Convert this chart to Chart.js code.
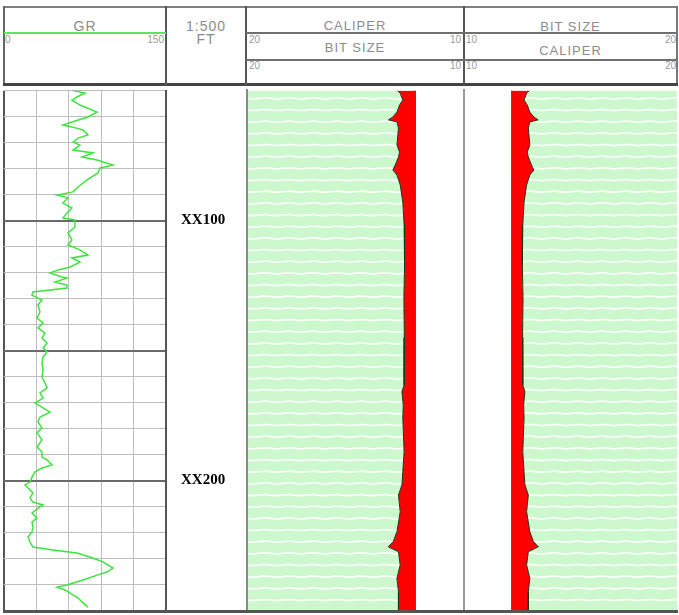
<!DOCTYPE html>
<html>
<head>
<meta charset="utf-8">
<script src="https://cdn.jsdelivr.net/npm/chart.js@4.4.1/dist/chart.umd.min.js"></script>
<style>
  html, body { margin: 0; padding: 0; background: #fff; }
  #page { position: relative; width: 679px; height: 615px; overflow: hidden;
          font-family: "Liberation Sans", Arial, sans-serif; color: #8c8c8c; }
  .ln { position: absolute; background: #6e6e6e; }
  .t { position: absolute; white-space: nowrap; line-height: 1; }
  .big { font-size: 13px; letter-spacing: 1px; }
  .sm { font-size: 10px; color: #9a9a9a; }
  canvas { position: absolute; }
</style>
</head>
<body>
<div id="page">
  <!-- header box -->
  <div class="ln" style="left:3px;top:6px;width:675px;height:2px;background:#808080"></div>
  <div class="ln" style="left:3px;top:6px;width:2px;height:79px;background:#666"></div>
  <div class="ln" style="left:676px;top:6px;width:2px;height:79px;background:#777"></div>
  <div class="ln" style="left:3px;top:83px;width:675px;height:3px;background:#444"></div>
  <div class="ln" style="left:165px;top:6px;width:2px;height:79px;background:#555"></div>
  <div class="ln" style="left:245px;top:6px;width:2px;height:79px;background:#555"></div>
  <div class="ln" style="left:463px;top:6px;width:2px;height:79px;background:#555"></div>

  <!-- GR header -->
  <div class="t" style="left:4px;width:162px;text-align:center;top:19px;font-size:14px;letter-spacing:1px">GR</div>
  <div class="ln" style="left:4px;top:32px;width:162px;height:2px;background:#5be65b"></div>
  <div class="t sm" id="grMin" style="left:5px;top:35px"></div>
  <div class="t sm" id="grMax" style="left:116px;width:48px;text-align:right;top:35px"></div>

  <!-- depth header -->
  <div class="t" style="left:166px;width:80px;text-align:center;top:19px;font-size:14px;letter-spacing:1px">1:500</div>
  <div class="t" style="left:166px;width:80px;text-align:center;top:32px;font-size:14px;letter-spacing:1px">FT</div>

  <!-- caliper track 1 header -->
  <div class="t big" style="left:247px;width:216px;text-align:center;top:19px">CALIPER</div>
  <div class="ln" style="left:246px;top:32px;width:218px;height:2px;background:#707070"></div>
  <div class="t sm" id="c1a0" style="left:249px;top:35px"></div>
  <div class="t sm" id="c1a1" style="left:412px;width:49px;text-align:right;top:35px"></div>
  <div class="t big" style="left:247px;width:216px;text-align:center;top:41px">BIT SIZE</div>
  <div class="ln" style="left:246px;top:59px;width:218px;height:2px;background:#707070"></div>
  <div class="t sm" id="c1b0" style="left:249px;top:61px"></div>
  <div class="t sm" id="c1b1" style="left:412px;width:49px;text-align:right;top:61px"></div>

  <!-- caliper track 2 header -->
  <div class="t big" style="left:465px;width:211px;text-align:center;top:20px">BIT SIZE</div>
  <div class="ln" style="left:464px;top:32px;width:213px;height:2px;background:#707070"></div>
  <div class="t sm" id="c2a0" style="left:466px;top:35px"></div>
  <div class="t sm" id="c2a1" style="left:626px;width:50px;text-align:right;top:35px"></div>
  <div class="t big" style="left:465px;width:211px;text-align:center;top:44px">CALIPER</div>
  <div class="ln" style="left:464px;top:59px;width:213px;height:2px;background:#707070"></div>
  <div class="t sm" id="c2b0" style="left:466px;top:61px"></div>
  <div class="t sm" id="c2b1" style="left:626px;width:50px;text-align:right;top:61px"></div>

  <!-- body tracks -->
  <canvas id="gr" width="246" height="540" style="left:0;top:80px"></canvas>
  <canvas id="cal1" width="217" height="540" style="left:247px;top:80px"></canvas>
  <canvas id="cal2" width="213" height="540" style="left:464px;top:80px"></canvas>

  <div class="ln" style="left:246px;top:89px;width:2px;height:523px;background:#8a8a8a"></div>
  <div class="ln" style="left:463px;top:89px;width:2px;height:523px;background:#9a9a9a"></div>
  <div class="ln" style="left:3px;top:610px;width:675px;height:3px;background:#555"></div>
</div>

<script>
// depth in ft (XX050 .. XX250), GR in API
const grDepth = [50, 51, 52.5, 53.7, 55.6, 58.3, 60.2, 62.1, 63.3, 64,
  65.2, 67.1, 68.3, 69.8, 71, 72.9, 74, 75.6, 76.7, 78.7,
  79.8, 81.7, 84.4, 87.1, 89, 90.2, 91.3, 93.3, 95.2, 97.1,
  99, 99.8, 102.5, 104.8, 107.5, 109.4, 111.3, 113.3, 114.4, 116,
  117.9, 119, 120.2, 121.7, 122.1, 123.7, 124.8, 126, 127.5, 128.7,
  130.6, 132.5, 135.2, 137.5, 139.4, 141.3, 143.3, 145.2, 147.1, 149,
  150.5, 152.5, 154.8, 157.5, 160.2, 162.5, 164.4, 166.3, 168.3, 170.2,
  172.1, 173.7, 175.6, 177.5, 179.8, 181.7, 184.4, 187.1, 189, 191,
  192.1, 194, 195.2, 196.7, 198.7, 200.6, 201.7, 202.9, 204.8, 206.7,
  208.3, 209.4, 210.6, 212.5, 214.4, 216, 217.9, 219.8, 221.7, 223.7,
  225.6, 226.7, 227.9, 229.4, 231.3, 233.7, 235.2, 236.3, 238.3, 240.2,
  241, 242.1, 244, 245.2, 246.7, 248.7];
const grValue = [64.2, 75.2, 67.8, 63.2, 70.6, 86.3, 78, 63.2, 54.9, 63.2,
  73.4, 78, 68.8, 64.2, 70.6, 64.2, 82.6, 72.5, 86.3, 101.1,
  89.1, 87.2, 77.1, 68.8, 64.2, 49.4, 59.5, 54.9, 63.2, 58.6,
  54.9, 66, 66, 59.5, 63.2, 59.5, 70.6, 78, 63.2, 70.6,
  61.4, 50.3, 42.9, 54, 58.6, 47.5, 58.6, 58.6, 27.2, 26.3,
  35.5, 31.8, 33.7, 30.9, 36.5, 31.8, 38.3, 35.5, 40.2, 36.5,
  40.2, 36.5, 35.5, 36.5, 35.5, 38.3, 40.2, 33.7, 36.5, 29.1,
  36.5, 42.9, 33.7, 31.8, 35.5, 30.9, 35.5, 30.9, 35.5, 35.5,
  40.2, 44.8, 35.5, 29.1, 26.3, 24.5, 19.8, 22.6, 27.2, 24.5,
  27.2, 36.5, 31.8, 26.3, 30.9, 26.3, 27.2, 26.3, 22.6, 24.5,
  27.2, 45.7, 67.8, 79.8, 91.8, 101.1, 95.5, 87.2, 73.4, 58.6,
  49.4, 56.8, 64.2, 68.8, 72.5, 78];

// caliper in inches
const calDepth = [50, 51, 53.7, 55.6, 58.3, 60.2, 61.3, 62.1, 64.4, 71,
  73.7, 75.6, 78.7, 80.6, 82.5, 86.3, 92.9, 101.7, 117, 130,
  145, 158, 163.3, 165.8, 171, 176, 189, 201.7, 205.6, 212,
  219.7, 223.5, 225.5, 227.4, 232.5, 237.6, 242.8, 250];
const calValue = [13.08, 12.94, 12.82, 12.97, 13.09, 13.28, 13.48, 13.09, 13.02, 13.09,
  12.97, 13.02, 13.17, 13.28, 13.09, 12.94, 12.82, 12.76, 12.74, 12.77,
  12.75, 12.76, 12.76, 12.86, 12.8, 12.82, 12.76, 12.86, 13.02, 12.94,
  13.09, 13.26, 13.49, 13.02, 12.94, 13.09, 13.02, 13.02];

const bitDepth = [50, 250];
const bitValue = [12.25, 12.25];

const depthRange = [50, 250];
const grScale = [0, 150];
const cal1Scale = [20, 10];
const cal2Scale = [10, 20];
const depthMarks = [100, 200];
const depthMarkLabels = ['XX100', 'XX200'];

// header scale numbers
document.getElementById('grMin').textContent = grScale[0];
document.getElementById('grMax').textContent = grScale[1];
['c1a', 'c1b'].forEach(p => {
  document.getElementById(p + '0').textContent = cal1Scale[0];
  document.getElementById(p + '1').textContent = cal1Scale[1];
});
['c2a', 'c2b'].forEach(p => {
  document.getElementById(p + '0').textContent = cal2Scale[0];
  document.getElementById(p + '1').textContent = cal2Scale[1];
});

const pts = (depths, vals) => depths.map((d, i) => ({ x: vals[i], y: d }));

// light green with faint wavy white stripes
function wavePattern(ctx) {
  const c = document.createElement('canvas');
  c.width = 24; c.height = 35;
  const g = c.getContext('2d');
  g.fillStyle = '#cdf8cd';
  g.fillRect(0, 0, 24, 35);
  g.strokeStyle = 'rgba(255,255,255,0.85)';
  g.lineWidth = 1.8;
  for (let k = 0; k < 3; k++) {
    const y0 = 6.7 + k * 11.667;
    g.beginPath();
    for (let x = 0; x <= 24; x++) {
      const y = y0 + Math.sin(x / 24 * 2 * Math.PI) * 0.5;
      if (x === 0) g.moveTo(x, y); else g.lineTo(x, y);
    }
    g.stroke();
  }
  return ctx.createPattern(c, 'repeat');
}

const common = {
  indexAxis: 'y',
  animation: false,
  responsive: false,
  events: [],
  layout: { padding: { top: 10.5, bottom: 9.5, left: 0, right: 0 } },
  plugins: { legend: { display: false }, tooltip: { enabled: false } }
};

// GR track, depth labels on its right axis
const heavy = v => v % 50 === 0 && v !== depthRange[0];
new Chart(document.getElementById('gr'), {
  type: 'line',
  data: {
    datasets: [{
      label: 'GR',
      data: pts(grDepth, grValue),
      borderColor: '#3fe33f',
      borderWidth: 1.5,
      pointRadius: 0,
      tension: 0,
      fill: false
    }]
  },
  options: {
    ...common,
    layout: { padding: { top: 10.5, bottom: 9.5, left: 3.5, right: 0 } },
    scales: {
      x: {
        type: 'linear', position: 'top', min: grScale[0], max: grScale[1],
        ticks: { display: false, stepSize: 30 },
        border: { display: false },
        grid: {
          drawTicks: false,
          color: c => (c.tick.value === grScale[0] || c.tick.value === grScale[1]) ? '#555' : '#bdbdbd',
          lineWidth: c => (c.tick.value === grScale[0] || c.tick.value === grScale[1]) ? 2 : 1
        }
      },
      y: {
        type: 'linear', position: 'right', min: depthRange[0], max: depthRange[1], reverse: true,
        afterFit: s => { s.width = 80; s.paddingTop = 0; s.paddingBottom = 0; },
        ticks: {
          stepSize: 10, autoSkip: false, padding: 15, color: '#000',
          font: { family: '"Liberation Serif", "Times New Roman", serif', weight: 'bold', size: 15 },
          callback: v => { const i = depthMarks.indexOf(v); return i >= 0 ? depthMarkLabels[i] : ''; }
        },
        border: { color: '#555', width: 2 },
        grid: {
          drawTicks: false,
          color: c => heavy(c.tick.value) ? '#6a6a6a' : '#bdbdbd',
          lineWidth: c => heavy(c.tick.value) ? 2 : 1
        }
      }
    }
  }
});

function caliperTrack(id, scale) {
  const ctx = document.getElementById(id).getContext('2d');
  const lo = Math.min(scale[0], scale[1]);
  const hi = Math.max(scale[0], scale[1]);
  return new Chart(ctx, {
    type: 'line',
    data: {
      datasets: [{
        label: 'CALIPER',
        data: pts(calDepth, calValue),
        borderColor: '#1e331e',
        borderWidth: 1,
        pointRadius: 0,
        tension: 0,
        fill: { value: 20 },
        backgroundColor: wavePattern(ctx)
      }, {
        label: 'BIT SIZE',
        data: pts(bitDepth, bitValue),
        borderColor: '#ff0000',
        borderWidth: 1,
        pointRadius: 0,
        tension: 0,
        fill: '-1',
        backgroundColor: '#ff0000'
      }]
    },
    options: {
      ...common,
      scales: {
        x: { type: 'linear', min: lo, max: hi, reverse: scale[0] > scale[1], display: false },
        y: { type: 'linear', min: depthRange[0], max: depthRange[1], reverse: true, display: false }
      }
    }
  });
}

caliperTrack('cal1', cal1Scale);
caliperTrack('cal2', cal2Scale);
</script>
</body>
</html>
